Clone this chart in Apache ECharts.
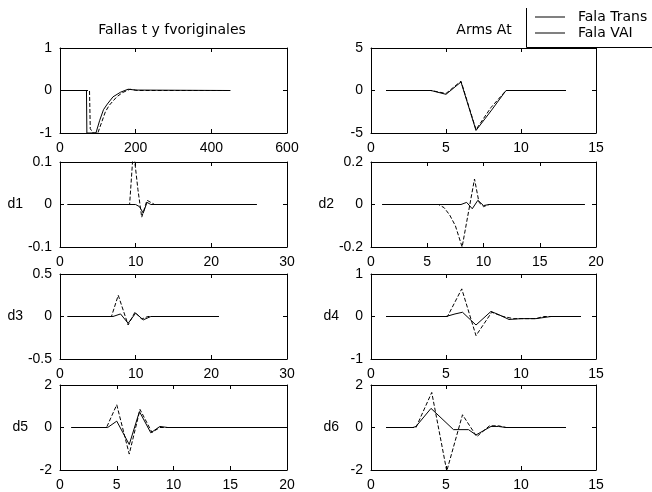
<!DOCTYPE html>
<html>
<head>
<meta charset="utf-8">
<script src="https://cdn.jsdelivr.net/npm/echarts@6/dist/echarts.min.js"></script>
<style>
html,body{margin:0;padding:0;background:#fff;}
#c{width:652px;height:492px;}
</style>
</head>
<body>
<div id="c"></div>
<script>
// ---------- data ----------
const legendNames = ['Fala Trans', 'Fala VAI'];
const titleLeft = 'Fallas t y fvoriginales';
const titleRight = 'Arms At';
const yNames = ['', '', 'd1', 'd2', 'd3', 'd4', 'd5', 'd6'];

// Panel 1: original signals
const p1X_T = [0, 70, 71, 95, 105, 115, 125, 140, 160, 180, 200, 450];
const p1Y_T = [0, 0, -1, -1, -0.7, -0.45, -0.32, -0.15, -0.04, 0.03, 0.01, 0];
const p1X_V = [0, 78, 80, 88, 100, 110, 120, 130, 140, 150, 165, 185, 205, 450];
const p1Y_V = [0, 0, -0.9, -1, -1, -0.75, -0.5, -0.35, -0.25, -0.15, -0.05, 0.03, 0, 0];

// Panel 2: At
const p2X = [1, 2, 3, 4, 5, 6, 7, 8, 9, 10, 11, 12, 13];
const p2Y_T = [0, 0, 0, 0, -0.45, 1.0, -4.7, -2.4, 0, 0, 0, 0, 0];
const p2Y_V = [0, 0, 0, 0, -0.35, 1.1, -4.6, -2.0, 0, 0, 0, 0, 0];

// d1
const d1X_T = [1, 10, 10.5, 11, 11.5, 12, 26];
const d1Y_T = [0, 0, -0.005, -0.02, 0.005, 0, 0];
const d1X_V = [1, 9.2, 9.7, 10.3, 10.8, 11.5, 12.5, 26];
const d1Y_V = [0, 0, 0.13, 0.035, -0.03, 0.01, 0, 0];

// d2
const d2X_T = [1, 8, 8.5, 9, 9.5, 10, 10.5, 19];
const d2Y_T = [0, 0, 0.01, -0.02, 0.02, -0.005, 0, 0];
const d2X_V = [1, 6, 6.5, 7, 7.5, 8.1, 9.2, 9.6, 10, 10.5, 19];
const d2Y_V = [0, 0, -0.015, -0.05, -0.1, -0.2, 0.12, 0.01, -0.01, 0, 0];

// d3
const d3X_T = [1, 7, 8, 9, 10, 11, 12, 21];
const d3Y_T = [0, 0, 0.03, -0.08, 0.04, -0.04, 0, 0];
const d3X_V = [1, 6.8, 7.7, 9, 9.9, 10.8, 11.6, 21];
const d3Y_V = [0, 0, 0.25, -0.1, 0.05, -0.03, 0, 0];

// d4
const d4X_T = [1, 5, 5.6, 6.1, 7, 8, 8.6, 9.2, 10, 11, 12, 14];
const d4Y_T = [0, 0, 0.06, 0.1, -0.2, 0.12, 0.03, -0.07, -0.05, -0.05, 0, 0];
const d4X_V = [1, 5.1, 6.05, 7, 8.05, 8.8, 9.5, 11, 11.5, 14];
const d4Y_V = [0, 0, 0.65, -0.45, 0.1, 0, -0.05, -0.05, 0, 0];

// d5
const d5X_T = [1, 4.2, 5, 6.1, 7, 8, 8.8, 9.5, 20];
const d5Y_T = [0, 0, 0.3, -0.8, 0.75, -0.25, 0.05, 0, 0];
const d5X_V = [1, 4.1, 5, 6.1, 7.05, 8.1, 8.8, 20];
const d5Y_V = [0, 0, 1.07, -1.25, 0.85, -0.23, 0, 0];

// d6
const d6X_T = [1, 2.8, 3, 4, 5.5, 6.5, 7, 8, 8.5, 9, 13];
const d6Y_T = [0, 0, 0.05, 0.9, -0.1, -0.1, -0.35, 0.05, 0.05, 0, 0];
const d6X_V = [1, 3, 4.05, 5.05, 6.1, 7.05, 7.9, 8.5, 9, 13];
const d6Y_V = [0, 0, 1.65, -2.05, 0.6, -0.43, 0.08, 0.08, 0, 0];

// axis ranges [min, max, interval]
const xRanges = [[0,600,200],[0,15,5],[0,30,10],[0,20,5],[0,30,10],[0,15,5],[0,20,5],[0,15,5]];
const yRanges = [[-1,1,1],[-5,5,5],[-0.1,0.1,0.1],[-0.2,0.2,0.2],[-0.5,0.5,0.5],[-1,1,1],[-2,2,2],[-2,2,2]];

const seriesT = [[p1X_T,p1Y_T],[p2X,p2Y_T],[d1X_T,d1Y_T],[d2X_T,d2Y_T],[d3X_T,d3Y_T],[d4X_T,d4Y_T],[d5X_T,d5Y_T],[d6X_T,d6Y_T]];
const seriesV = [[p1X_V,p1Y_V],[p2X,p2Y_V],[d1X_V,d1Y_V],[d2X_V,d2Y_V],[d3X_V,d3Y_V],[d4X_V,d4Y_V],[d5X_V,d5Y_V],[d6X_V,d6Y_V]];

// ---------- layout ----------
const FONT = '"Liberation Sans", Arial, Helvetica, sans-serif';
const WIDE = '"DejaVu Sans", "Liberation Sans", sans-serif';
const colLeft = [60, 371];
const colWidth = [227, 225];
const rowTop = [48, 162, 274, 385];
const rowH = 85;

const zip = (xs, ys) => xs.map((x, i) => [x, ys[i]]);

const grid = [], xAxis = [], yAxis = [], series = [];
for (let i = 0; i < 8; i++) {
  const col = i % 2, row = Math.floor(i / 2);
  grid.push({left: colLeft[col], top: rowTop[row], width: colWidth[col], height: rowH, containLabel: false});
  const [xmin, xmax, xint] = xRanges[i];
  const [ymin, ymax, yint] = yRanges[i];
  const axLine = {show: true, onZero: false, lineStyle: {color: '#000', width: 1}};
  const tick = {show: true, inside: true, length: 4, lineStyle: {color: '#000', width: 1}};
  const lab = {color: '#000', fontSize: 14, fontFamily: FONT, margin: 8};
  xAxis.push({gridIndex: i, type: 'value', min: xmin, max: xmax, interval: xint, position: 'bottom',
    axisLine: axLine, axisTick: tick, axisLabel: lab, splitLine: {show: false}});
  xAxis.push({gridIndex: i, type: 'value', min: xmin, max: xmax, interval: xint, position: 'top',
    axisLine: axLine, axisTick: tick, axisLabel: {show: false}, splitLine: {show: false}});
  yAxis.push({gridIndex: i, type: 'value', min: ymin, max: ymax, interval: yint, position: 'left',
    name: yNames[i], nameLocation: 'middle', nameRotate: 0, nameGap: 32,
    nameTextStyle: {color: '#000', fontSize: 14, fontFamily: FONT},
    axisLine: axLine, axisTick: tick, axisLabel: lab, splitLine: {show: false}});
  yAxis.push({gridIndex: i, type: 'value', min: ymin, max: ymax, interval: yint, position: 'right',
    axisLine: axLine, axisTick: tick, axisLabel: {show: false}, splitLine: {show: false}});
  series.push({name: legendNames[0], type: 'line', xAxisIndex: 2*i, yAxisIndex: 2*i,
    data: zip(seriesT[i][0], seriesT[i][1]), symbol: 'none', clip: true, color: '#000',
    lineStyle: {color: '#000', width: 1, type: 'solid'}});
  series.push({name: legendNames[1], type: 'line', xAxisIndex: 2*i, yAxisIndex: 2*i,
    data: zip(seriesV[i][0], seriesV[i][1]), symbol: 'none', clip: true, color: '#000',
    lineStyle: {color: '#000', width: 1, type: [4, 2]}});
}

const chart = echarts.init(document.getElementById('c'), null, {renderer: 'canvas'});
chart.setOption({
  animation: false,
  backgroundColor: '#fff',
  grid, xAxis, yAxis, series,
  legend: {
    data: legendNames, left: 535, top: 9, orient: 'vertical', padding: 0,
    itemGap: 0, itemWidth: 30, itemHeight: 1, icon: 'rect',
    itemStyle: {color: '#000'},
    textStyle: {color: '#000', fontSize: 14, fontFamily: WIDE, lineHeight: 16, padding: [0, 0, 0, 8]},
    selectedMode: false, z: 10
  },
  graphic: [
    {type: 'text', x: 172, y: 30, z: 10, style: {text: titleLeft, fill: '#000', font: '14px ' + WIDE, align: 'center', verticalAlign: 'middle'}},
    {type: 'text', x: 484, y: 30, z: 10, style: {text: titleRight, fill: '#000', font: '14px ' + WIDE, align: 'center', verticalAlign: 'middle'}},
    {type: 'line', z: 9, shape: {x1: 526.5, y1: 8, x2: 526.5, y2: 47.5}, style: {stroke: '#000', lineWidth: 1}},
    {type: 'line', z: 9, shape: {x1: 526.5, y1: 47.5, x2: 652, y2: 47.5}, style: {stroke: '#000', lineWidth: 1}}
  ]
});
</script>
</body>
</html>
